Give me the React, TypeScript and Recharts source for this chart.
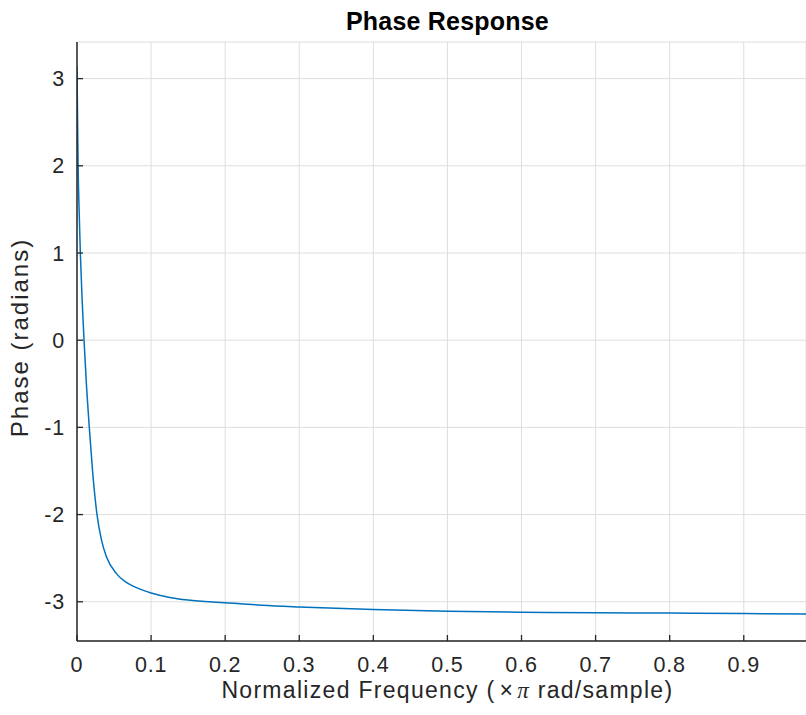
import { LineChart, Line, XAxis, YAxis, CartesianGrid, Label } from "recharts";

// normalized frequency (x pi rad/sample)
const freq = [
  0, 0.0008, 0.0015, 0.003, 0.0045, 0.007, 0.0095, 0.013, 0.0166, 0.021, 0.027, 0.033,
  0.04, 0.0535, 0.065, 0.078, 0.1, 0.125, 0.15, 0.2, 0.25, 0.3, 0.4, 0.5, 0.6, 0.7, 0.8,
  0.9, 0.984,
];
// phase in radians
const phase = [
  3.14, 2.5, 2.0, 1.45, 1.0, 0.45, 0.0, -0.55, -1.0, -1.5, -2.0, -2.29,
  -2.49, -2.68, -2.77, -2.83, -2.9, -2.95, -2.98, -3.01, -3.04, -3.06, -3.09, -3.11, -3.12, -3.125, -3.13,
  -3.135, -3.14,
];
const xTicks = [0, 0.1, 0.2, 0.3, 0.4, 0.5, 0.6, 0.7, 0.8, 0.9];
const yTicks = [-3, -2, -1, 0, 1, 2, 3];

const X_MAX = 0.984; // axis runs to 1, the picture is cut just before
const FONT = "'Liberation Sans', Arial, Helvetica, sans-serif";
const AXIS_COLOR = "#262626";

const data = freq.map((f, i) => ({ f, p: phase[i] }));

// centre of the full 0..1 axis, not of the visible part
const axisCenter = (vb: any) => vb.x + (vb.width * 0.5) / X_MAX;

// x label + title, both centred on the full axis
const XLabel = (props: any) => {
  const vb = props.viewBox;
  const cx = axisCenter(vb);
  return (
    <g>
      <text x={cx} y={30} textAnchor="middle" fontFamily={FONT} fontSize={25}
        fontWeight="bold" fill="#000" letterSpacing={0.2}>
        Phase Response
      </text>
      <text x={cx} y={698} textAnchor="middle" fontFamily={FONT} fontSize={23}
        fill={AXIS_COLOR} letterSpacing={1.3}>
        Normalized Frequency (
        <tspan dx={4}>×</tspan>
        <tspan dx={3} fontFamily="'Liberation Serif', serif" fontStyle="italic">π</tspan>
        <tspan> rad/sample)</tspan>
      </text>
    </g>
  );
};

const YLabel = (props: any) => {
  const vb = props.viewBox;
  const cy = vb.y + vb.height / 2 - 4;
  return (
    <text x={28} y={cy} transform={`rotate(-90 28 ${cy})`} textAnchor="middle" fontFamily={FONT}
      fontSize={24} fill={AXIS_COLOR} letterSpacing={2}>
      Phase (radians)
    </text>
  );
};

const tickStyle = { fontSize: 21.5, fontFamily: FONT, fill: AXIS_COLOR, letterSpacing: 0.8 };

export default function App() {
  return (
    <div style={{ position: "absolute", left: 0, top: 0, width: 806, height: 715, background: "#fff" }}>
      <LineChart width={806} height={715} data={data}
        margin={{ top: 42, right: 0, bottom: 0, left: 0 }}>
        <CartesianGrid stroke="#dedede" strokeWidth={1} />
        <XAxis dataKey="f" type="number" domain={[0, X_MAX]} allowDataOverflow ticks={xTicks}
          height={74} tick={tickStyle} tickSize={-6} tickMargin={22}
          axisLine={{ stroke: AXIS_COLOR, strokeWidth: 1.5 }} tickLine={{ stroke: AXIS_COLOR, strokeWidth: 1.3 }}>
          <Label content={XLabel} />
        </XAxis>
        <XAxis xAxisId="top" orientation="top" dataKey="f" type="number" domain={[0, X_MAX]}
          allowDataOverflow ticks={xTicks} height={0} tick={() => <g />} tickSize={-6}
          axisLine={{ stroke: AXIS_COLOR, strokeWidth: 1.5 }} tickLine={{ stroke: AXIS_COLOR, strokeWidth: 1.3 }} />
        <YAxis type="number" domain={[-3.45, 3.42]} allowDataOverflow ticks={yTicks} width={77}
          tick={tickStyle} tickSize={-6} tickMargin={18}
          axisLine={{ stroke: AXIS_COLOR, strokeWidth: 1.5 }} tickLine={{ stroke: AXIS_COLOR, strokeWidth: 1.3 }}>
          <Label content={YLabel} />
        </YAxis>
        <Line type="monotone" dataKey="p" stroke="#0072BD" strokeWidth={1.5} dot={false}
          isAnimationActive={false} />
      </LineChart>
    </div>
  );
}
